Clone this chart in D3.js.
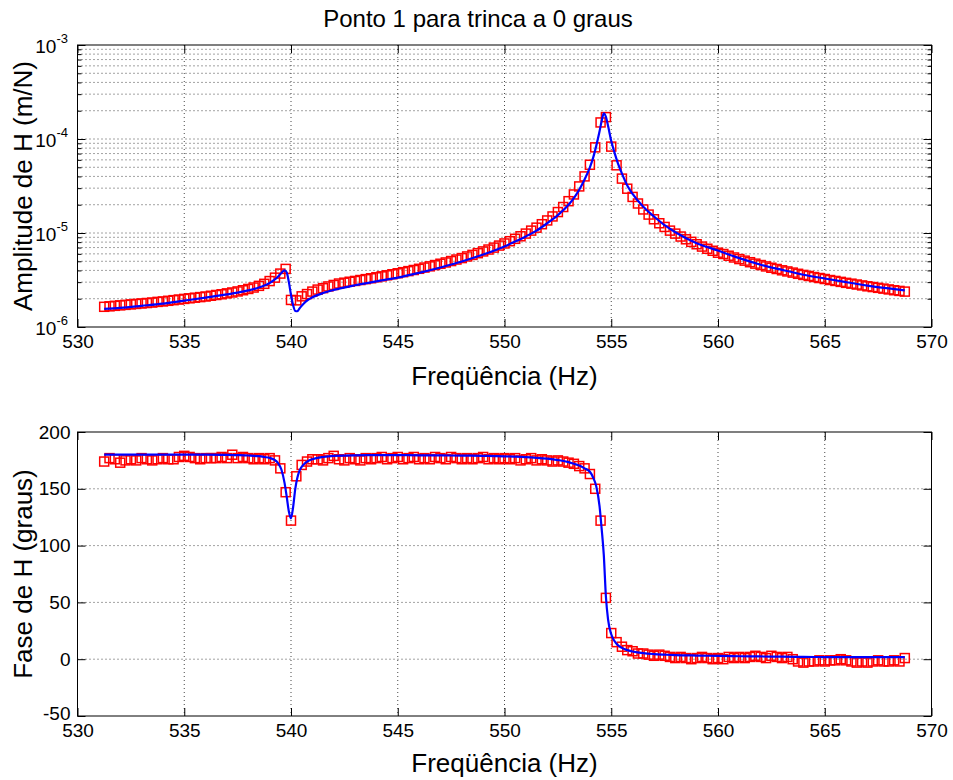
<!DOCTYPE html>
<html>
<head>
<meta charset="utf-8">
<script src="https://cdn.jsdelivr.net/npm/d3@7"></script>
<style>
  body { margin: 0; background: #fff; }
  text { font-family: "Liberation Sans", Arial, Helvetica, sans-serif; fill: #000; }
</style>
</head>
<body>
<div id="chart"></div>
<script>
// measured frequencies (Hz)
const freq = [
  531.25,531.5,531.75,532,532.25,532.5,532.75,533,533.25,533.5,
  533.75,534,534.25,534.5,534.75,535,535.25,535.5,535.75,536,
  536.25,536.5,536.75,537,537.25,537.5,537.75,538,538.25,538.5,
  538.75,539,539.25,539.5,539.75,540,540.25,540.5,540.75,541,
  541.25,541.5,541.75,542,542.25,542.5,542.75,543,543.25,543.5,
  543.75,544,544.25,544.5,544.75,545,545.25,545.5,545.75,546,
  546.25,546.5,546.75,547,547.25,547.5,547.75,548,548.25,548.5,
  548.75,549,549.25,549.5,549.75,550,550.25,550.5,550.75,551,
  551.25,551.5,551.75,552,552.25,552.5,552.75,553,553.25,553.5,
  553.75,554,554.25,554.5,554.75,555,555.25,555.5,555.75,556,
  556.25,556.5,556.75,557,557.25,557.5,557.75,558,558.25,558.5,
  558.75,559,559.25,559.5,559.75,560,560.25,560.5,560.75,561,
  561.25,561.5,561.75,562,562.25,562.5,562.75,563,563.25,563.5,
  563.75,564,564.25,564.5,564.75,565,565.25,565.5,565.75,566,
  566.25,566.5,566.75,567,567.25,567.5,567.75,568,568.25,568.5,
  568.75
];
// measured amplitude (x 1e-6 m/N)
const ampMeas = [
  1.64,1.66,1.68,1.70,1.72,1.74,1.76,1.78,1.80,1.82,
  1.85,1.87,1.90,1.93,1.96,1.99,2.02,2.05,2.08,2.11,
  2.15,2.19,2.23,2.28,2.33,2.39,2.46,2.54,2.63,2.74,
  2.88,3.08,3.35,3.70,4.15,1.94,1.92,2.12,2.24,2.38,
  2.50,2.59,2.70,2.80,2.90,2.96,3.03,3.09,3.16,3.23,
  3.30,3.38,3.46,3.55,3.64,3.73,3.83,3.93,4.04,4.16,
  4.29,4.42,4.56,4.71,4.86,5.03,5.22,5.41,5.63,5.85,
  6.10,6.37,6.67,6.99,7.35,7.74,8.18,8.67,9.23,9.86,
  10.6,11.4,12.4,13.6,15.0,16.7,18.9,21.8,25.7,31.3,
  40.0,53.2,81.5,150,171,83,52.5,37.9,29.6,24.2,
  20.6,17.8,15.7,14.0,12.7,11.6,10.6,9.85,9.17,8.57,
  8.05,7.59,7.17,6.80,6.47,6.17,5.98,5.73,5.49,5.28,
  5.08,4.89,4.72,4.56,4.41,4.27,4.14,4.01,3.90,3.79,
  3.68,3.58,3.49,3.40,3.32,3.24,3.16,3.09,3.02,2.95,
  2.89,2.83,2.77,2.71,2.66,2.61,2.56,2.51,2.46,2.42,
  2.38
];
// measured phase (graus)
const phaseMeas = [
  174,177,176,173,175,176,175,177,176,175,
  176,177,176,176,178,179,178,177,176,177,
  177,177,178,177,180,177,178,177,176,177,
  176,177,175,168,147,122,161,171,174,176,
  176,175,177,179,176,175,177,176,175,177,
  176,177,178,176,177,178,176,177,178,176,
  177,176,178,177,176,178,177,176,177,176,
  177,178,176,177,176,177,176,177,175,176,
  177,175,176,175,174,175,174,173,172,170,
  168,163,150,122,54,23,15,11,8,7,
  5,5,4,3,4,3,2,1,2,1,
  0,1,2,1,0,1,0,2,1,2,
  1,2,3,2,1,3,2,1,2,0,
  -2,-3,-2,-2,-1,-2,-1,-1,0,-1,
  -2,-3,-2,-3,-2,-1,-2,-2,-1,-2,
  1
];
// fitted model curve
const fitFreq = [
  531.25,532,533,534,535,536,537,537.5,538,538.5,538.75,539,539.2,539.4,539.55,
  539.7,539.8,539.9,540,540.1,540.2,540.3,540.4,540.6,540.8,541,541.5,542,543,544,
  545,546,547,548,549,550,550.5,551,551.5,552,552.5,553,553.25,553.5,553.75,
  554,554.15,554.3,554.45,554.55,554.65,554.75,554.85,555,555.15,555.3,555.5,555.75,556,556.5,
  557,557.5,558,559,560,561,562,563,564,565,566,567,568,568.75
];
const ampFit = [
  1.56,1.60,1.68,1.77,1.91,2.05,2.22,2.32,2.45,2.63,2.76,2.94,3.15,3.45,3.75,
  4.0,3.8,3.0,2.2,1.7,1.48,1.47,1.58,1.78,1.95,2.07,2.30,2.48,2.78,3.06,
  3.35,3.77,4.30,4.98,5.90,7.2,8.1,9.2,10.6,12.7,15.5,20.0,23.5,28.8,37,
  50,63,85,120,155,188,172,138,95,72,56,43,32,26,19,
  15,12.1,10.2,7.8,6.5,5.4,4.6,4.05,3.60,3.28,3.00,2.76,2.57,2.45
];
const phaseFit = [
  180,180,180,180,180,180,179.8,179.6,179.3,178.7,178,177.2,175.8,172.5,167,
  155,143,130,124,134,150,160,166,171.5,174.5,176,178,179,179.5,179.6,
  179.6,179.5,179.4,179.2,179,178.6,178.3,177.9,177.3,176.5,175.3,173.5,172,170.5,168,
  165,160,152,135,115,92,55,35,22,16,12.5,10,8,6.8,5.3,
  4.5,4,3.6,3.2,2.9,2.6,2.4,2.2,2.0,1.9,1.8,1.8,1.8,1.8
];
const xTicks = [530,535,540,545,550,555,560,565,570];
const ampTicks = [1e-6,1e-5,1e-4,1e-3];
const phaseTicks = [-50,0,50,100,150,200];

const w = 953, h = 780;
const left = 77.5, right = 931.5;

const svg = d3.select("#chart").append("svg")
  .attr("width", w).attr("height", h)
  .style("background-color", "#fff");

const x = d3.scaleLinear().domain([530, 570]).range([left, right]);
const yAmp = d3.scaleLog().domain([1e-6, 1e-3]).range([327, 45]);
const yPh = d3.scaleLinear().domain([-50, 200]).range([716, 432]);

const meas = freq.map((f, i) => ({f: f, a: ampMeas[i] * 1e-6, p: phaseMeas[i]}));
const fit = fitFreq.map((f, i) => ({f: f, a: ampFit[i] * 1e-6, p: phaseFit[i]}));

function grid(g, y, yTicksList, top, bottom) {
  g.selectAll(".gx").data(xTicks.slice(1, -1)).enter().append("line")
    .attr("x1", d => x(d)).attr("x2", d => x(d))
    .attr("y1", top).attr("y2", bottom)
    .attr("stroke", "#000").attr("stroke-width", 0.9)
    .attr("stroke-dasharray", "1,3").attr("opacity", 0.8);
  g.selectAll(".gy").data(yTicksList).enter().append("line")
    .attr("x1", left).attr("x2", right)
    .attr("y1", d => y(d)).attr("y2", d => y(d))
    .attr("stroke", "#000").attr("stroke-width", 0.9)
    .attr("stroke-dasharray", "1,3").attr("opacity", 0.8);
}

function panel(y, top, bottom, key, yGrid, ySpec) {
  const g = svg.append("g");
  grid(g, y, yGrid, top, bottom);

  // data squares
  g.selectAll("rect.m").data(meas).enter().append("rect")
    .attr("x", d => x(d.f) - 4.5).attr("y", d => y(d[key]) - 4.5)
    .attr("width", 9).attr("height", 9)
    .attr("fill", "none").attr("stroke", "#ff0000").attr("stroke-width", 1.5);

  const line = d3.line().x(d => x(d.f)).y(d => y(d[key])).curve(d3.curveMonotoneX);
  g.append("path").datum(fit).attr("d", line)
    .attr("fill", "none").attr("stroke", "#0000ff").attr("stroke-width", 2.2);

  // box
  g.append("rect").attr("x", left).attr("y", top)
    .attr("width", right - left).attr("height", bottom - top)
    .attr("fill", "none").attr("stroke", "#000").attr("stroke-width", 1);

  const xb = g.append("g").attr("transform", "translate(0," + bottom + ")")
    .call(d3.axisBottom(x).tickValues(xTicks).tickSize(-8).tickPadding(8).tickFormat(d3.format("d")));
  const xt = g.append("g").attr("transform", "translate(0," + top + ")")
    .call(d3.axisTop(x).tickValues(xTicks).tickSize(-8).tickFormat(""));
  ySpec(g);
  [xb, xt].forEach(a => {
    a.select(".domain").remove();
    a.selectAll("line").attr("stroke", "#000");
    a.selectAll("text").style("font-size", "19px").attr("fill", "#000");
  });
  return g;
}

// top panel: amplitude, log scale
const minorAmp = yAmp.ticks().filter(v => Math.abs(Math.log10(v) - Math.round(Math.log10(v))) > 1e-6);
panel(yAmp, 45, 327, "a", minorAmp.concat(ampTicks.slice(1, -1)), g => {
  const al = g.append("g").attr("transform", "translate(" + left + ",0)")
    .call(d3.axisLeft(yAmp).tickValues(ampTicks).tickSize(-8).tickFormat(""));
  const ar = g.append("g").attr("transform", "translate(" + right + ",0)")
    .call(d3.axisRight(yAmp).tickValues(ampTicks).tickSize(-8).tickFormat(""));
  const ml = g.append("g").attr("transform", "translate(" + left + ",0)")
    .call(d3.axisLeft(yAmp).tickValues(minorAmp).tickSize(-4).tickFormat(""));
  const mr = g.append("g").attr("transform", "translate(" + right + ",0)")
    .call(d3.axisRight(yAmp).tickValues(minorAmp).tickSize(-4).tickFormat(""));
  [al, ar, ml, mr].forEach(a => { a.select(".domain").remove(); a.selectAll("line").attr("stroke", "#000"); });
  const lab = g.selectAll("text.pow").data(ampTicks).enter().append("text")
    .attr("class", "pow")
    .attr("x", 68).attr("y", d => yAmp(d) + 8)
    .attr("text-anchor", "end").style("font-size", "19px");
  lab.append("tspan").text("10");
  lab.append("tspan").attr("dy", -10).style("font-size", "13px")
    .text(d => Math.round(Math.log10(d)));
});

// bottom panel: phase
panel(yPh, 432, 716, "p", phaseTicks.slice(1, -1), g => {
  const pl = g.append("g").attr("transform", "translate(" + left + ",0)")
    .call(d3.axisLeft(yPh).tickValues(phaseTicks).tickSize(-8).tickPadding(7).tickFormat(d => String(d)));
  const pr = g.append("g").attr("transform", "translate(" + right + ",0)")
    .call(d3.axisRight(yPh).tickValues(phaseTicks).tickSize(-8).tickFormat(""));
  [pl, pr].forEach(a => {
    a.select(".domain").remove();
    a.selectAll("line").attr("stroke", "#000");
    a.selectAll("text").style("font-size", "19px").attr("fill", "#000");
  });
  // lowest label sits a bit higher so it clears the x labels
  pl.selectAll(".tick").filter(d => d === -50).select("text").attr("y", -3);
});

// titles and labels
svg.append("text").attr("x", 478).attr("y", 27).attr("text-anchor", "middle")
  .style("font-size", "24px").text("Ponto 1 para trinca a 0 graus");
svg.append("text").attr("x", (left + right) / 2).attr("y", 385).attr("text-anchor", "middle")
  .style("font-size", "26px").text("Freqüência (Hz)");
svg.append("text").attr("x", (left + right) / 2).attr("y", 772).attr("text-anchor", "middle")
  .style("font-size", "26px").text("Freqüência (Hz)");
svg.append("text").attr("transform", "translate(32,186) rotate(-90)").attr("text-anchor", "middle")
  .style("font-size", "26px").text("Amplitude de H (m/N)");
svg.append("text").attr("transform", "translate(32,574) rotate(-90)").attr("text-anchor", "middle")
  .style("font-size", "26px").text("Fase de H (graus)");
</script>
</body>
</html>
